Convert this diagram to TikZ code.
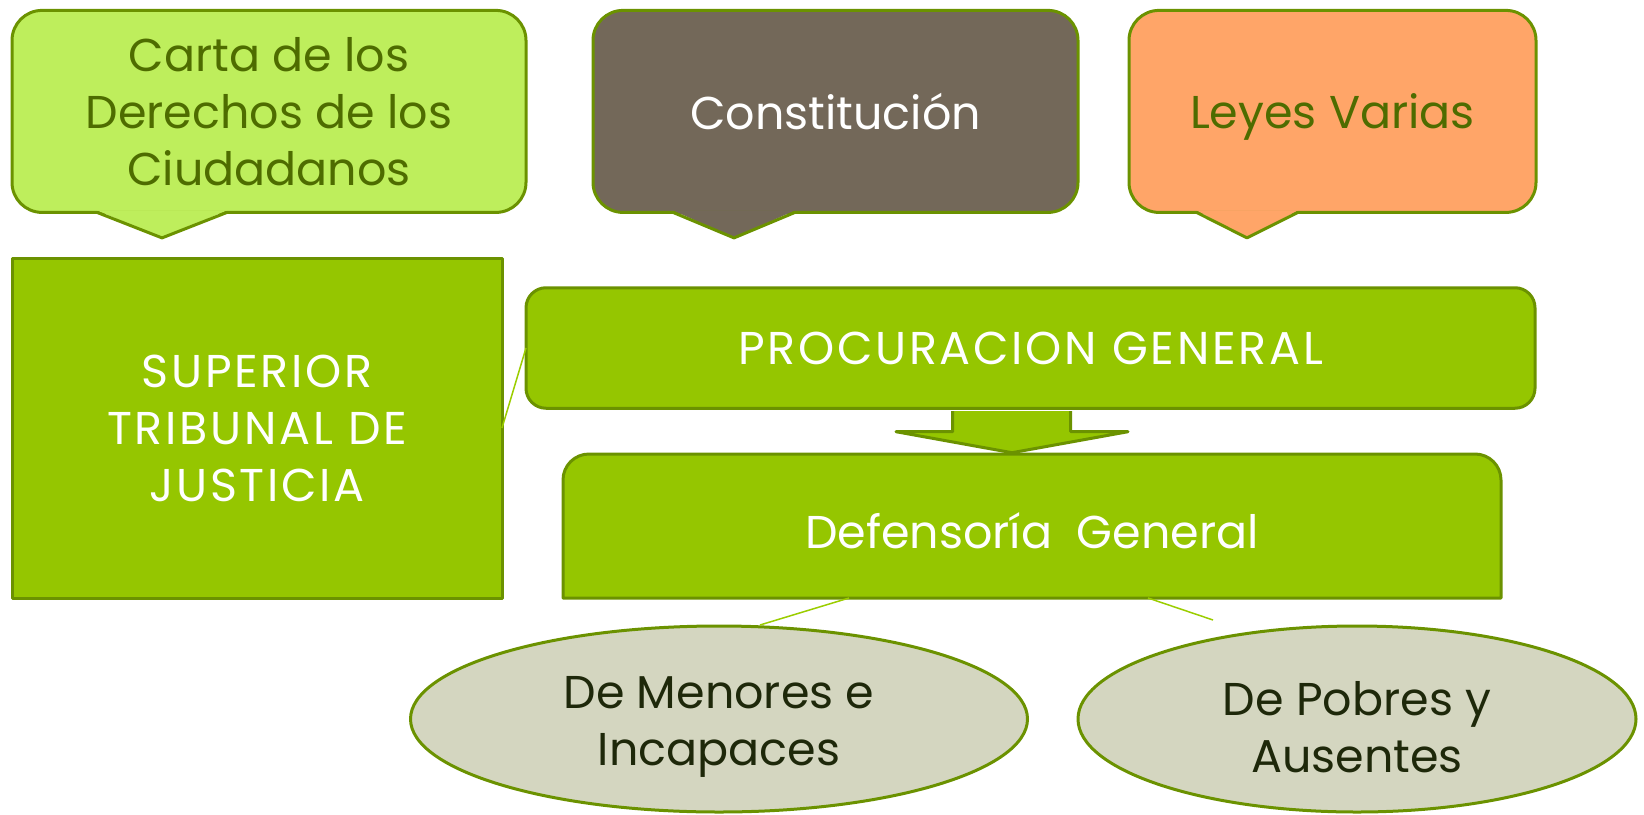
\documentclass[tikz,border=0pt]{standalone}
\usepackage{fontspec}
\setmainfont{Poppins}
\usetikzlibrary{shapes.geometric}

\definecolor{cartafill}{RGB}{190,238,92}
\definecolor{brownfill}{RGB}{115,104,89}
\definecolor{orangefill}{RGB}{255,165,104}
\definecolor{boxgreen}{RGB}{149,198,0}
\definecolor{edgegreen}{RGB}{107,146,0}
\definecolor{olivetext}{RGB}{78,108,0}
\definecolor{ovalgray}{RGB}{212,214,192}
\definecolor{ovaltext}{RGB}{30,40,10}
\definecolor{linkgreen}{RGB}{155,205,0}

\tikzset{
  every node/.style={font=\fontsize{46}{57}\selectfont},
  caps/.style={font=\fontsize{46}{57}\selectfont\addfontfeatures{LetterSpace=6}},
  edge/.style={draw=edgegreen, line width=3pt, line join=round, outer sep=0pt},
  bubble/.style={edge, rounded corners=30pt, align=center, inner sep=0pt,
    minimum height=202pt},
  greenbox/.style={edge, fill=boxgreen, text=white, align=center, inner sep=0pt},
  oval/.style={ellipse, edge, fill=ovalgray, inner sep=0pt, minimum height=186pt},
  ovaltxt/.style={text=ovaltext, align=center},
  link/.style={draw=linkgreen, line width=1.5pt},
}

\begin{document}
\begin{tikzpicture}[x=1pt,y=-1pt]
  \useasboundingbox (0,0) rectangle (1644,814);

  % callouts on top
  \node[bubble, fill=cartafill, text=olivetext, minimum width=514pt] (carta) at (269,111.4)
    {Carta de los\\Derechos de los\\Ciudadanos};
  \fill[cartafill] ([xshift=-172pt,yshift=2pt]carta.south) -- ([xshift=-107pt,yshift=-25.5pt]carta.south)
    -- ([xshift=-42pt,yshift=2pt]carta.south) -- cycle;
  \draw[edge] ([xshift=-172pt]carta.south) -- ([xshift=-107pt,yshift=-25.5pt]carta.south)
    -- ([xshift=-42pt]carta.south);

  \node[bubble, fill=brownfill, text=white, minimum width=485pt] (const) at (835.5,111.4)
    {Constitución};
  \fill[brownfill] ([xshift=-162.5pt,yshift=2pt]const.south) -- ([xshift=-101.5pt,yshift=-25.5pt]const.south)
    -- ([xshift=-40.5pt,yshift=2pt]const.south) -- cycle;
  \draw[edge] ([xshift=-162.5pt]const.south) -- ([xshift=-101.5pt,yshift=-25.5pt]const.south)
    -- ([xshift=-40.5pt]const.south);

  \node[bubble, fill=orangefill, text=olivetext, minimum width=407pt] (leyes) at (1332.5,111.4)
    {Leyes Varias\rule{0pt}{47pt}};
  \fill[orangefill] ([xshift=-136pt,yshift=2pt]leyes.south) -- ([xshift=-85.5pt,yshift=-25.5pt]leyes.south)
    -- ([xshift=-34.5pt,yshift=2pt]leyes.south) -- cycle;
  \draw[edge] ([xshift=-136pt]leyes.south) -- ([xshift=-85.5pt,yshift=-25.5pt]leyes.south)
    -- ([xshift=-34.5pt]leyes.south);

  % green blocks
  \node[greenbox, caps, minimum width=490pt, minimum height=340pt] (superior) at (257,428)
    {SUPERIOR\\TRIBUNAL DE\\JUSTICIA};
  \node[greenbox, caps, rounded corners=20pt, minimum width=1009pt, minimum height=120.5pt] (procura) at (1030.5,348)
    {PROCURACION GENERAL};
  % only the top corners are rounded
  \node[minimum width=938pt, minimum height=144pt, inner sep=0pt, outer sep=0pt] (defensa) at (1032,526) {};
  \filldraw[edge, fill=boxgreen] (defensa.south west) [rounded corners=26pt] -- (defensa.north west)
    -- (defensa.north east) [sharp corners] -- (defensa.south east) -- cycle;
  \node[text=white] (defensatxt) at (1032,531) {Defensoría\ \ General};

  % block arrow
  \filldraw[edge, fill=boxgreen] (952.7,411) -- (952.7,431.7) -- (896,431.7) -- (1012,452.7)
    -- (1128,431.7) -- (1070.7,431.7) -- (1070.7,411);

  % ovals
  \node[oval, minimum width=617pt] (menores) at (719,719) {};
  \node[ovaltxt] (menorestxt) at (719,727) {De Menores e\\Incapaces};
  \node[oval, minimum width=558pt] (pobres) at (1357,719) {};
  \node[ovaltxt] (pobrestxt) at (1357,727) {De Pobres y\\Ausentes};

  % thin links
  \coordinate (endA) at (1213,620);
  \draw[link] (procura.west) -- (superior.east);
  \draw[link] ([xshift=-183pt]defensa.south) -- ([xshift=41pt,yshift=1pt]menores.north);
  \draw[link] ([xshift=116pt]defensa.south) -- (endA);
\end{tikzpicture}
\end{document}
